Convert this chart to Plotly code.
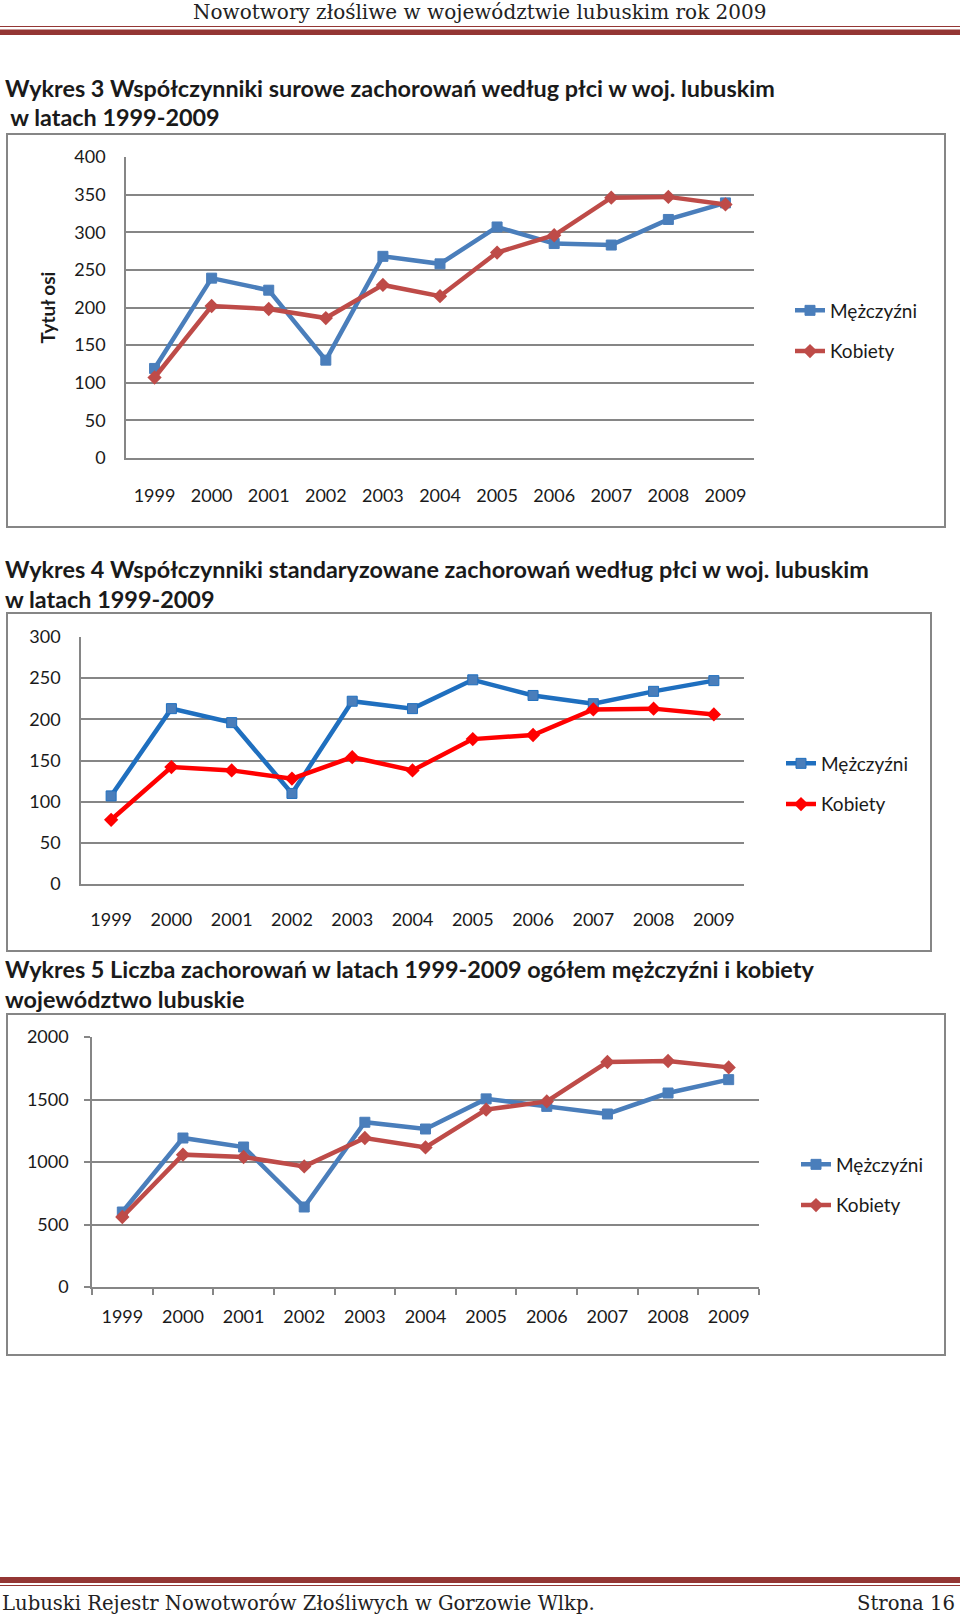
import plotly.graph_objects as go

W, H = 960, 1616

years = ["1999", "2000", "2001", "2002", "2003", "2004", "2005", "2006", "2007", "2008", "2009"]

# Wykres 3 - współczynniki surowe
crude_m = [119, 239, 223, 130, 268, 258, 307, 285, 283, 317, 339]
crude_k = [107, 202, 198, 186, 230, 215, 273, 296, 346, 347, 337]

# Wykres 4 - współczynniki standaryzowane
std_m = [107, 213, 196, 110, 222, 213, 248, 229, 219, 234, 247]
std_k = [78, 142, 138, 128, 154, 138, 176, 181, 212, 213, 206]

# Wykres 5 - liczba zachorowań
cnt_m = [600, 1192, 1120, 640, 1318, 1264, 1505, 1445, 1384, 1552, 1659]
cnt_k = [560, 1059, 1040, 965, 1192, 1117, 1419, 1485, 1800, 1808, 1757]

series_names = ["Mężczyźni", "Kobiety"]

FONT = "Lato"
SERIF = "DejaVu Serif"
GRID = "#868686"
DARKRED = "#943634"


def px(x):
    return x / W


def py(y):
    return 1 - y / H


fig = go.Figure()

charts = [
    dict(m=crude_m, k=crude_k, x0=126, x1=754, ytop=157, ybot=458, yr=[0, 400], dt=50,
         cm="#4A7EBB", cmm="#4A7EBB", ck="#BE4B48", legend="legend", ly=331, lx=790,
         box=(7, 134, 945, 527), xstand=21, ticks=False),
    dict(m=std_m, k=std_k, x0=81, x1=744, ytop=637, ybot=884, yr=[0, 300], dt=50,
         cm="#1F6FBF", cmm="#4A7EBB", ck="#FF0000", legend="legend2", ly=784, lx=781,
         box=(7, 613, 931, 951), xstand=19, ticks=False),
    dict(m=cnt_m, k=cnt_k, x0=92, x1=759, ytop=1037, ybot=1287, yr=[0, 2000], dt=500,
         cm="#4A7EBB", cmm="#4A7EBB", ck="#BE4B48", legend="legend3", ly=1185, lx=796,
         box=(7, 1014, 945, 1355), xstand=13, ticks=True),
]

layout_axes = {}
for i, c in enumerate(charts, start=1):
    xa = "x" if i == 1 else f"x{i}"
    ya = "y" if i == 1 else f"y{i}"
    fig.add_trace(go.Scatter(
        x=years, y=c["m"], name=series_names[0], mode="lines+markers",
        line=dict(color=c["cm"], width=4.5),
        marker=dict(symbol="square", size=10, color=c["cmm"], line=dict(color=c["cm"], width=1)),
        xaxis=xa, yaxis=ya, legend=c["legend"], legendgroup=f"m{i}",
    ))
    fig.add_trace(go.Scatter(
        x=years, y=c["k"], name=series_names[1], mode="lines+markers",
        line=dict(color=c["ck"], width=4.5),
        marker=dict(symbol="diamond", size=11, color=c["ck"]),
        xaxis=xa, yaxis=ya, legend=c["legend"], legendgroup=f"k{i}",
    ))
    xkey = "xaxis" if i == 1 else f"xaxis{i}"
    ykey = "yaxis" if i == 1 else f"yaxis{i}"
    layout_axes[xkey] = dict(
        domain=[px(c["x0"]), px(c["x1"])], anchor=ya, type="category",
        range=[-0.5, 10.5], showgrid=False, zeroline=False, automargin=False,
        showline=True, linecolor=GRID, linewidth=1.5,
        ticks="outside" if c["ticks"] else "", ticklen=6, tickcolor=GRID, tickwidth=1.5,
        tickson="boundaries",
        tickfont=dict(family=FONT, size=18, color="#1a1a1a"),
        ticklabelstandoff=c["xstand"], fixedrange=True,
    )
    layout_axes[ykey] = dict(
        domain=[py(c["ybot"]), py(c["ytop"])], anchor=xa, range=c["yr"], dtick=c["dt"],
        showgrid=True, gridcolor=GRID, gridwidth=1.5, zeroline=False, automargin=False,
        showline=True, linecolor=GRID, linewidth=1.5,
        ticks="outside" if c["ticks"] else "", ticklen=6, tickcolor=GRID, tickwidth=1.5,
        tickfont=dict(family=FONT, size=18, color="#1a1a1a"),
        ticklabelstandoff=15 if not c["ticks"] else 12, fixedrange=True,
    )
    leg = dict(x=px(c["lx"]), y=py(c["ly"]), xanchor="left", yanchor="middle",
               font=dict(family=FONT, size=19, color="#1a1a1a"), bgcolor="rgba(0,0,0,0)",
               traceorder="grouped", tracegroupgap=13, itemclick=False, itemdoubleclick=False)
    layout_axes[c["legend"]] = leg

layout_axes["yaxis"]["title"] = dict(text="<b>Tytuł osi</b>", font=dict(family=FONT, size=19, color="#1a1a1a"), standoff=14)

shapes = []
for c in charts:
    x0, y0, x1, y1 = c["box"]
    shapes.append(dict(type="rect", xref="paper", yref="paper", x0=px(x0), x1=px(x1), y0=py(y1), y1=py(y0),
                       line=dict(color=GRID, width=2), layer="below"))
# header and footer rules
shapes.append(dict(type="line", xref="paper", yref="paper", x0=0, x1=1, y0=py(26.5), y1=py(26.5), line=dict(color=DARKRED, width=1)))
shapes.append(dict(type="rect", xref="paper", yref="paper", x0=0, x1=1, y0=py(35), y1=py(29.5), line=dict(width=0), fillcolor=DARKRED))
shapes.append(dict(type="rect", xref="paper", yref="paper", x0=0, x1=1, y0=py(1583), y1=py(1577), line=dict(width=0), fillcolor=DARKRED))
shapes.append(dict(type="line", xref="paper", yref="paper", x0=0, x1=1, y0=py(1585.5), y1=py(1585.5), line=dict(color=DARKRED, width=1)))

titles = [
    ("Wykres 3 Współczynniki surowe zachorowań według płci w woj. lubuskim", 88),
    ("&nbsp;w latach 1999-2009", 117),
    ("Wykres 4 Współczynniki standaryzowane zachorowań według płci w woj. lubuskim", 569),
    ("w latach 1999-2009", 599),
    ("Wykres 5 Liczba zachorowań w latach 1999-2009 ogółem mężczyźni i kobiety", 969),
    ("województwo lubuskie", 999),
]
annotations = []
for t, y in titles:
    annotations.append(dict(text="<b>" + t + "</b>",
                            xref="paper", yref="paper", x=px(3), y=py(y), xanchor="left", yanchor="middle",
                            showarrow=False, font=dict(family=FONT, size=23.4, color="#1a1a1a")))
annotations.append(dict(text="Nowotwory złośliwe w województwie lubuskim rok 2009", xref="paper", yref="paper",
                        x=0.5, y=py(12), xanchor="center", yanchor="middle", showarrow=False,
                        font=dict(family=SERIF, size=20, color="#222")))
annotations.append(dict(text="Lubuski Rejestr Nowotworów Złośliwych w Gorzowie Wlkp.", xref="paper", yref="paper",
                        x=0, y=py(1603), xanchor="left", yanchor="middle", showarrow=False,
                        font=dict(family=SERIF, size=19.6, color="#222")))
annotations.append(dict(text="Strona 16", xref="paper", yref="paper",
                        x=px(957), y=py(1603), xanchor="right", yanchor="middle", showarrow=False,
                        font=dict(family=SERIF, size=19.6, color="#222")))

fig.update_layout(
    width=W, height=H, margin=dict(l=0, r=0, t=0, b=0, pad=0, autoexpand=False),
    paper_bgcolor="white", plot_bgcolor="white",
    shapes=shapes, annotations=annotations, showlegend=True,
    **layout_axes,
)

post = (
    "document.documentElement.style.margin='0';document.body.style.margin='0';"
    "document.body.style.padding='0';document.body.style.overflow='hidden';"
    "var gd=document.getElementById('{plot_id}');gd.style.position='absolute';"
    "gd.style.left='0px';gd.style.top='0px';"
)
fig.write_html("out.html", config={"displayModeBar": False}, post_script=post)
